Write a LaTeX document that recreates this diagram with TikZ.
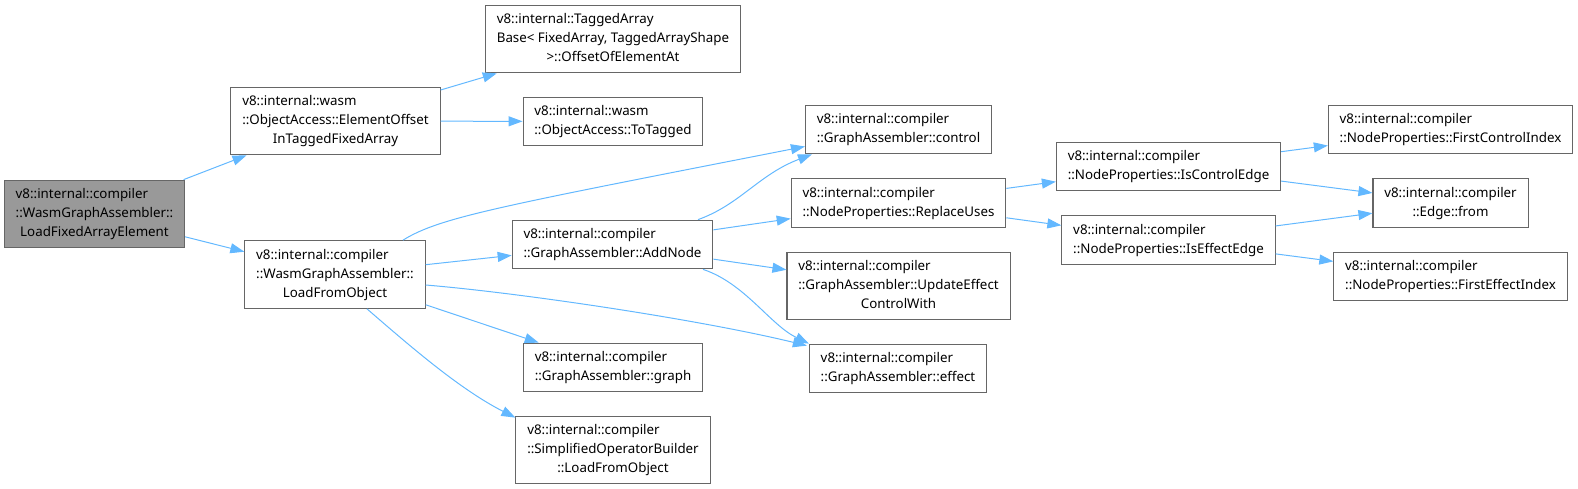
\documentclass[tikz,border=0pt]{standalone}
\usepackage{fontspec}
\setmainfont{Noto Sans}
\usetikzlibrary{arrows.meta, calc}
\definecolor{edgeblue}{HTML}{63B8FF}
\definecolor{boxgray}{HTML}{666666}
\definecolor{rootgray}{HTML}{999999}
\newcommand{\fnlabel}[2]{\begin{tabular}{@{}l@{}}#1\\\multicolumn{1}{@{}c@{}}{#2}\end{tabular}}

\begin{document}
\begin{tikzpicture}[x=0.75pt, y=-0.75pt,
    fnbox/.style={draw=boxgray, fill=white, line width=0.8pt, inner xsep=8.5pt, inner ysep=4pt, font=\fontsize{10}{14.25}\selectfont},
    rootbox/.style={fnbox, fill=rootgray},
    callarrow/.style={-{Triangle[length=10.5pt, width=7.5pt]}, line width=0.75pt, edgeblue}]
    \useasboundingbox (0,0) rectangle (1578,489);

    % Caller
    \node[rootbox] (root) at (94.5,214) {\fnlabel{v8::internal::compiler\\::WasmGraphAssembler::}{LoadFixedArrayElement}};

    % First level
    \node[fnbox] (elemoff) at (335.5,121) {\fnlabel{v8::internal::wasm\\::ObjectAccess::ElementOffset}{InTaggedFixedArray}};
    \node[fnbox] (loadobj) at (335,274.5) {\fnlabel{v8::internal::compiler\\::WasmGraphAssembler::}{LoadFromObject}};

    % Second level
    \node[fnbox] (tagged) at (613,39) {\fnlabel{v8::internal::TaggedArray\\Base< FixedArray, TaggedArrayShape}{>::OffsetOfElementAt}};
    \node[fnbox] (totagged) at (613,121.5) {\fnlabel{v8::internal::wasm}{::ObjectAccess::ToTagged}};
    \node[fnbox] (addnode) at (612.5,244.5) {\fnlabel{v8::internal::compiler}{::GraphAssembler::AddNode}};
    \node[fnbox] (graph) at (613,367.5) {\fnlabel{v8::internal::compiler}{::GraphAssembler::graph}};
    \node[fnbox] (simpop) at (613,450) {\fnlabel{v8::internal::compiler\\::SimplifiedOperatorBuilder}{::LoadFromObject}};

    % Third level
    \node[fnbox] (control) at (898.5,129.5) {\fnlabel{v8::internal::compiler}{::GraphAssembler::control}};
    \node[fnbox] (replace) at (898.5,203) {\fnlabel{v8::internal::compiler}{::NodeProperties::ReplaceUses}};
    \node[fnbox] (update) at (898.5,286) {\fnlabel{v8::internal::compiler\\::GraphAssembler::UpdateEffect}{ControlWith}};
    \node[fnbox] (effect) at (898,368.5) {\fnlabel{v8::internal::compiler}{::GraphAssembler::effect}};

    % Fourth level
    \node[fnbox] (isctrl) at (1168.5,166.5) {\fnlabel{v8::internal::compiler}{::NodeProperties::IsControlEdge}};
    \node[fnbox] (iseff) at (1168.5,240) {\fnlabel{v8::internal::compiler}{::NodeProperties::IsEffectEdge}};

    % Fifth level
    \node[fnbox] (firstctrl) at (1450.5,129.5) {\fnlabel{v8::internal::compiler}{::NodeProperties::FirstControlIndex}};
    \node[fnbox] (edgefrom) at (1450.5,203) {\fnlabel{v8::internal::compiler}{::Edge::from}};
    \node[fnbox] (firsteff) at (1450.5,276.5) {\fnlabel{v8::internal::compiler}{::NodeProperties::FirstEffectIndex}};

    % Calls
    \draw[callarrow] (root) -- (elemoff);
    \draw[callarrow] (root) -- (loadobj);
    \draw[callarrow] (elemoff) -- (tagged);
    \draw[callarrow] (elemoff) -- (totagged);
    \draw[callarrow] ($(loadobj.north)+(68,0)$) .. controls +(37,-23) and +(-306,60) .. ($(control.west)+(0,17)$);
    \draw[callarrow] (loadobj) -- (addnode);
    \draw[callarrow] ($(loadobj.east)+(0,10.5)$) .. controls +(96,8) and +(-107,-26) .. ($(effect.north west)+(-2,2)$);
    \draw[callarrow] (loadobj) -- (graph);
    \draw[callarrow] ($(loadobj.south)+(32,0)$) .. controls +(45,39) and +(-55,-28) .. ($(simpop.north west)+(0,2)$);
    \draw[callarrow] ($(addnode.north)+(85.5,0)$) .. controls +(42,-15) and +(-53,20) .. ($(control.south west)+(7,0)$);
    \draw[callarrow] (addnode) -- (replace);
    \draw[callarrow] (addnode) -- (update);
    \draw[callarrow] ($(addnode.south)+(90.5,0)$) .. controls +(42,14) and +(-39,-19) .. ($(effect.north west)+(0,0)$);
    \draw[callarrow] (replace) -- (isctrl);
    \draw[callarrow] (replace) -- (iseff);
    \draw[callarrow] (isctrl) -- (firstctrl);
    \draw[callarrow] (isctrl) -- (edgefrom);
    \draw[callarrow] (iseff) -- (edgefrom);
    \draw[callarrow] (iseff) -- (firsteff);
\end{tikzpicture}
\end{document}
